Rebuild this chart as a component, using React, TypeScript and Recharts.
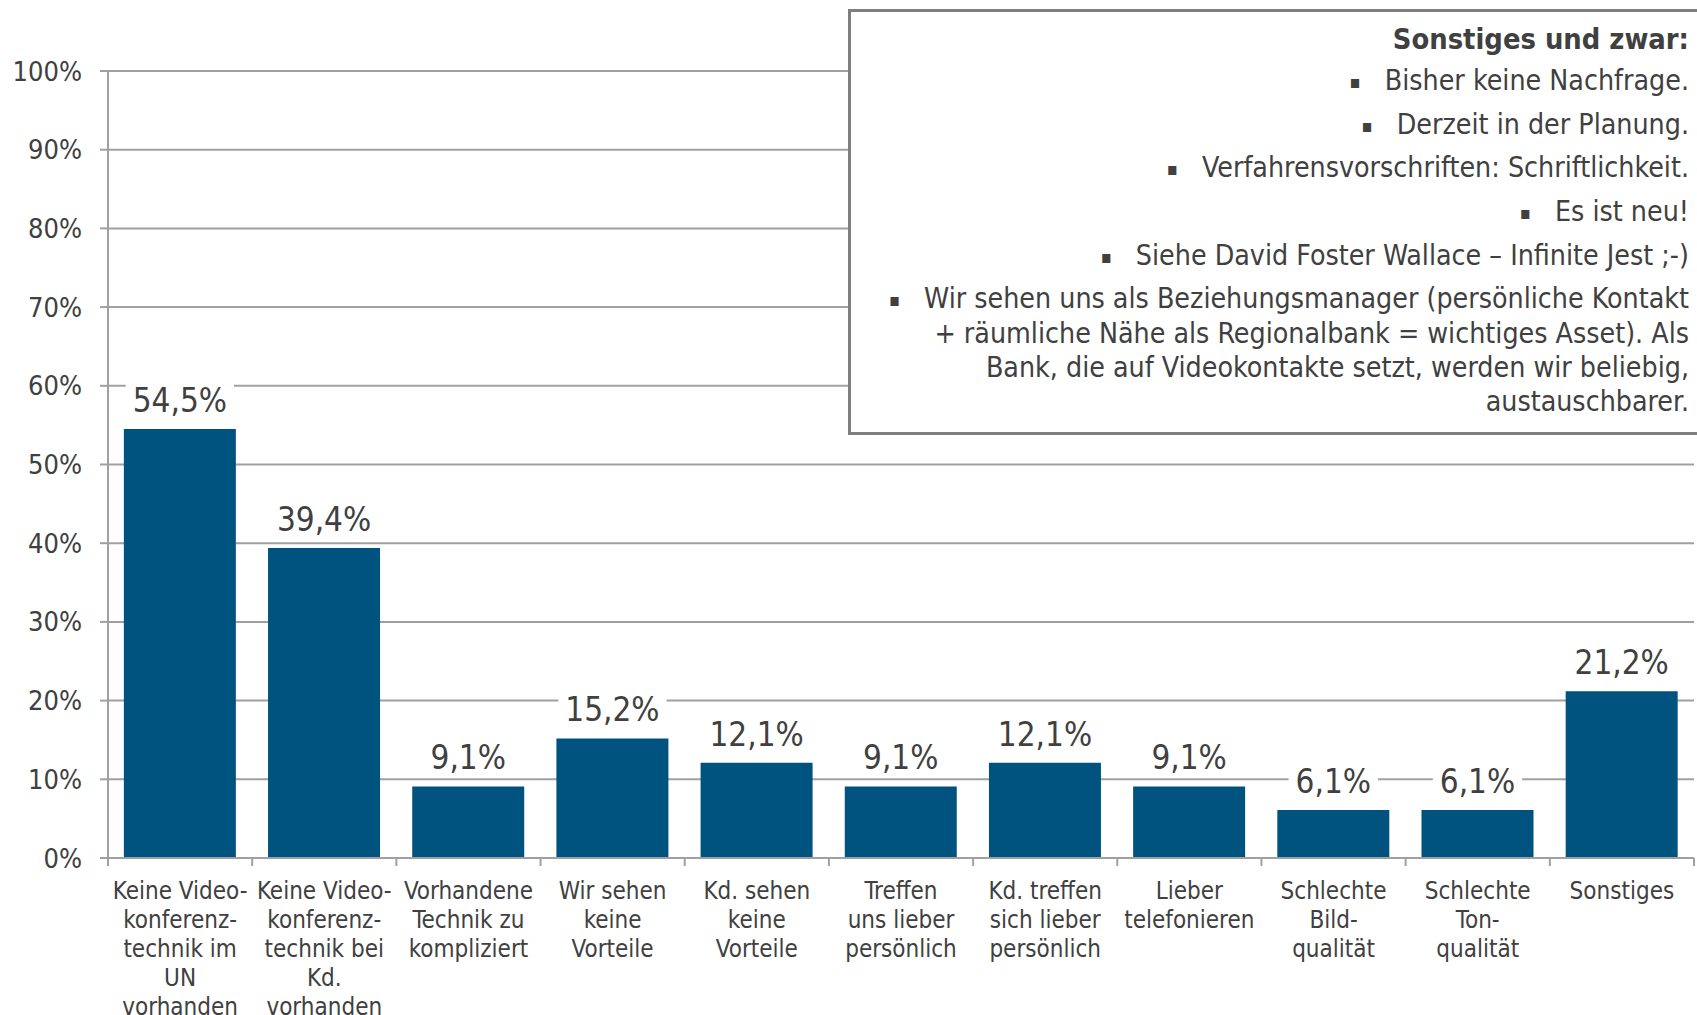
import React from 'react';
import { BarChart, Bar, XAxis, YAxis, CartesianGrid, LabelList } from 'recharts';

const categories = [
  'Keine Video-\nkonferenz-\ntechnik im\nUN\nvorhanden',
  'Keine Video-\nkonferenz-\ntechnik bei\nKd.\nvorhanden',
  'Vorhandene\nTechnik zu\nkompliziert',
  'Wir sehen\nkeine\nVorteile',
  'Kd. sehen\nkeine\nVorteile',
  'Treffen\nuns lieber\npersönlich',
  'Kd. treffen\nsich lieber\npersönlich',
  'Lieber\ntelefonieren',
  'Schlechte\nBild-\nqualität',
  'Schlechte\nTon-\nqualität',
  'Sonstiges',
];
const values = [54.5, 39.4, 9.1, 15.2, 12.1, 9.1, 12.1, 9.1, 6.1, 6.1, 21.2];
const yTicks = [0, 10, 20, 30, 40, 50, 60, 70, 80, 90, 100];

const noteTitle = 'Sonstiges und zwar:';
const noteItems: string[][] = [
  ['Bisher keine Nachfrage.'],
  ['Derzeit in der Planung.'],
  ['Verfahrensvorschriften: Schriftlichkeit.'],
  ['Es ist neu!'],
  ['Siehe David Foster Wallace – Infinite Jest ;-)'],
  [
    'Wir sehen uns als Beziehungsmanager (persönliche Kontakt',
    '+ räumliche Nähe als Regionalbank = wichtiges Asset). Als',
    'Bank, die auf Videokontakte setzt, werden wir beliebig,',
    'austauschbarer.',
  ],
];

const data = categories.map((name, i) => ({ name, value: values[i] }));

const W = 1697;
const H = 1015;
const MARGIN = { top: 71, right: 3, bottom: 0, left: 8 };
const Y_W = 100;
const X_H = 157;
const PLOT_W = W - MARGIN.left - MARGIN.right - Y_W;
const BAND = PLOT_W / categories.length;

const FONT = '"DejaVu Sans Condensed", "DejaVu Sans", Tahoma, sans-serif';
const TEXT = '#404040';
const GRID = '#a0a0a0';
const BAR = '#00537f';

const fmt = (v: number) => v.toFixed(1).replace('.', ',') + '%';

const charW = (c: string) => {
  if (c >= '0' && c <= '9') return 0.572;
  if (c === ',') return 0.286;
  if (c === '%') return 0.855;
  return 0.55;
};
const textWidth = (s: string, fs: number) => s.split('').reduce((a, c) => a + charW(c) * fs, 0);

const ValueLabel = (props: any) => {
  const { x, y, width, value } = props;
  const txt = fmt(Number(value));
  const fs = 33;
  const cx = Number(x) + Number(width) / 2;
  const base = Number(y) - 17;
  const tw = textWidth(txt, fs);
  return (
    <g>
      <rect x={cx - tw / 2 - 7} y={base - 28} width={tw + 14} height={35} fill="#ffffff" />
      <text x={cx} y={base} textAnchor="middle" fontSize={fs} fill={TEXT} fontFamily={FONT}>
        {txt}
      </text>
    </g>
  );
};

const XTick = (props: any) => {
  const { x, y, payload, index } = props;
  const lines = String(payload.value).split('\n');
  const half = BAND / 2;
  return (
    <g>
      <line x1={x - half} x2={x - half} y1={y} y2={y + 8} stroke={GRID} strokeWidth={2} />
      {index === categories.length - 1 && (
        <line x1={x + half} x2={x + half} y1={y} y2={y + 8} stroke={GRID} strokeWidth={2} />
      )}
      <text textAnchor="middle" fill={TEXT} fontSize={24} fontFamily={FONT}>
        {lines.map((l, i) => (
          <tspan key={i} x={x} y={y + 41 + i * 29}>
            {l}
          </tspan>
        ))}
      </text>
    </g>
  );
};

export default function App() {
  return (
    <div
      style={{
        position: 'absolute',
        left: 0,
        top: 0,
        width: W,
        height: H,
        overflow: 'hidden',
        background: '#ffffff',
      }}
    >
      <BarChart width={W} height={H} data={data} margin={MARGIN} barCategoryGap="11%">
        <CartesianGrid vertical={false} stroke={GRID} strokeWidth={2} />
        <XAxis
          dataKey="name"
          interval={0}
          height={X_H}
          tickSize={0}
          tickMargin={0}
          tickLine={false}
          axisLine={{ stroke: GRID, strokeWidth: 2 }}
          tick={<XTick />}
        />
        <YAxis
          width={Y_W}
          domain={[0, 100]}
          ticks={yTicks}
          interval={0}
          tickSize={8}
          tickMargin={18}
          tickFormatter={(v: number) => `${v}%`}
          axisLine={{ stroke: GRID, strokeWidth: 2 }}
          tickLine={{ stroke: GRID, strokeWidth: 2 }}
          tick={{ fill: TEXT, fontSize: 27, fontFamily: FONT }}
        />
        <Bar dataKey="value" fill={BAR} isAnimationActive={false}>
          <LabelList dataKey="value" content={<ValueLabel />} />
        </Bar>
      </BarChart>
      <div
        style={{
          position: 'absolute',
          left: 848,
          top: 9,
          width: 853,
          height: 426,
          boxSizing: 'border-box',
          border: '3px solid #7f7f7f',
          background: '#ffffff',
          paddingRight: 9,
          paddingTop: 10,
          textAlign: 'right',
          color: TEXT,
          fontFamily: FONT,
          fontSize: 28.3,
          lineHeight: '34px',
        }}
      >
        <div style={{ fontWeight: 'bold', whiteSpace: 'nowrap', fontSize: 28.8 }}>{noteTitle}</div>
        {noteItems.map((item, i) => (
          <div key={i} style={{ marginTop: i === 0 ? 8 : 8.7 }}>
            {item.map((line, j) => (
              <div key={j} style={{ whiteSpace: 'nowrap' }}>
                {j === 0 && <span style={{ fontSize: 18, marginRight: 24, verticalAlign: '2px' }}>▪</span>}
                {line}
              </div>
            ))}
          </div>
        ))}
      </div>
    </div>
  );
}
